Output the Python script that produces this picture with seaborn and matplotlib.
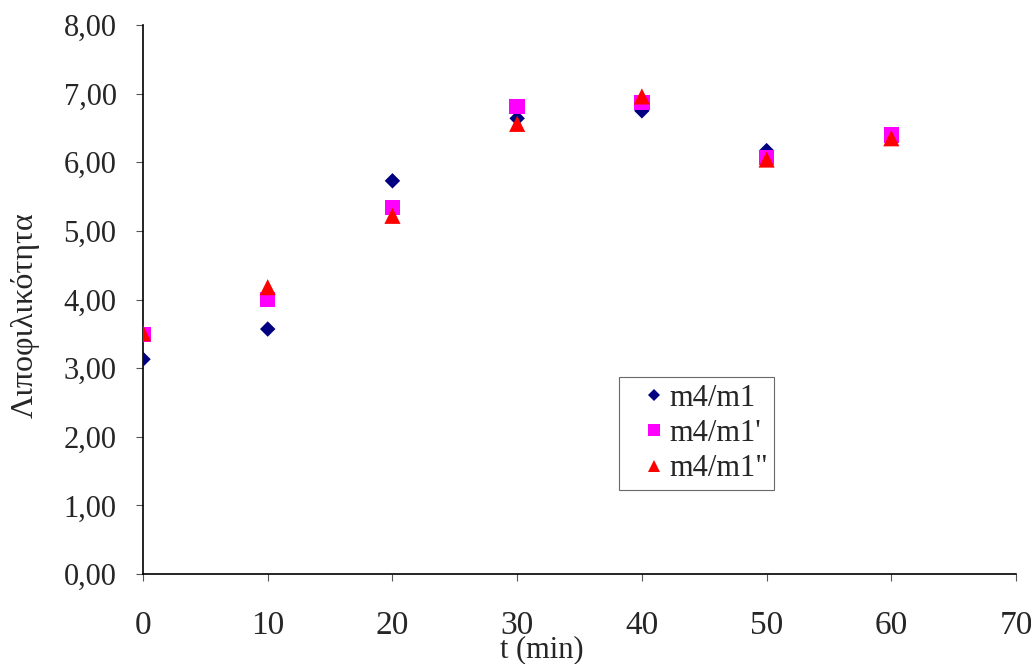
import numpy as np
import pandas as pd
import matplotlib
matplotlib.use("Agg")
import matplotlib.pyplot as plt
from matplotlib.ticker import FuncFormatter, MultipleLocator
import seaborn as sns

# values
t_min = [0, 10, 20, 30, 40, 50, 60]
m4_m1 = [3.13, 3.57, 5.73, 6.64, 6.75, 6.17, np.nan]
m4_m1_p = [3.49, 4.00, 5.34, 6.81, 6.87, 6.07, 6.40]
m4_m1_pp = [3.51, 4.18, 5.22, 6.56, 6.96, 6.04, 6.35]

series_names = ["m4/m1", "m4/m1'", 'm4/m1"']

data = pd.DataFrame({"t": t_min * 3,
                     "value": m4_m1 + m4_m1_p + m4_m1_pp,
                     "series": [s for s in series_names for _ in t_min]})
data = data.dropna()

sns.set_style("white")
plt.rcParams['font.family'] = ['Liberation Serif', 'DejaVu Serif']

fig = plt.figure(figsize=(10.31, 6.64), dpi=100)
ax = fig.add_axes([0.1387, 0.1355, 0.8468, 0.8268])

palette = {series_names[0]: "#000080", series_names[1]: "#FF00FF", series_names[2]: "#FF0000"}
markers = {series_names[0]: "D", series_names[1]: "s", series_names[2]: "^"}
sizes = {series_names[0]: 62, series_names[1]: 125, series_names[2]: 135}

sns.scatterplot(data=data, x="t", y="value", hue="series", style="series", size="series",
                palette=palette, markers=markers, sizes=sizes, linewidth=0,
                hue_order=series_names, style_order=series_names, size_order=series_names,
                ax=ax, zorder=3)

ax.set_xlim(0, 70)
ax.set_ylim(0, 8)
ax.xaxis.set_major_locator(MultipleLocator(10))
ax.yaxis.set_major_locator(MultipleLocator(1))
ax.yaxis.set_major_formatter(FuncFormatter(lambda v, p: f"{v:.2f}".replace('.', ',')))

for side in ["top", "right"]:
    ax.spines[side].set_visible(False)
for side in ["left", "bottom"]:
    ax.spines[side].set_color("black")
    ax.spines[side].set_linewidth(1.2)

ax.tick_params(axis="x", direction="out", length=5, width=0.8, color="#555555",
               labelsize=24, pad=21, bottom=True)
ax.tick_params(axis="y", direction="out", length=5, width=0.8, color="#555555",
               labelsize=22, pad=14, left=True)

ax.set_xlabel("t (min)", fontsize=22)
ax.set_ylabel("Λιποφιλικότητα", fontsize=23)
ax.xaxis.set_label_coords(0.457, -0.112)
ax.yaxis.set_label_coords(-0.118, 0.472)

leg = ax.legend(loc="upper left", bbox_to_anchor=(0.545, 0.358), borderaxespad=0,
                fontsize=22, frameon=True, fancybox=False, handletextpad=-0.46,
                handlelength=1.9, borderpad=0.2, labelspacing=0.21, markerscale=0.75)
leg.get_frame().set_edgecolor("#444444")
leg.get_frame().set_linewidth(0.8)

fig.savefig("out.png", dpi=100)
